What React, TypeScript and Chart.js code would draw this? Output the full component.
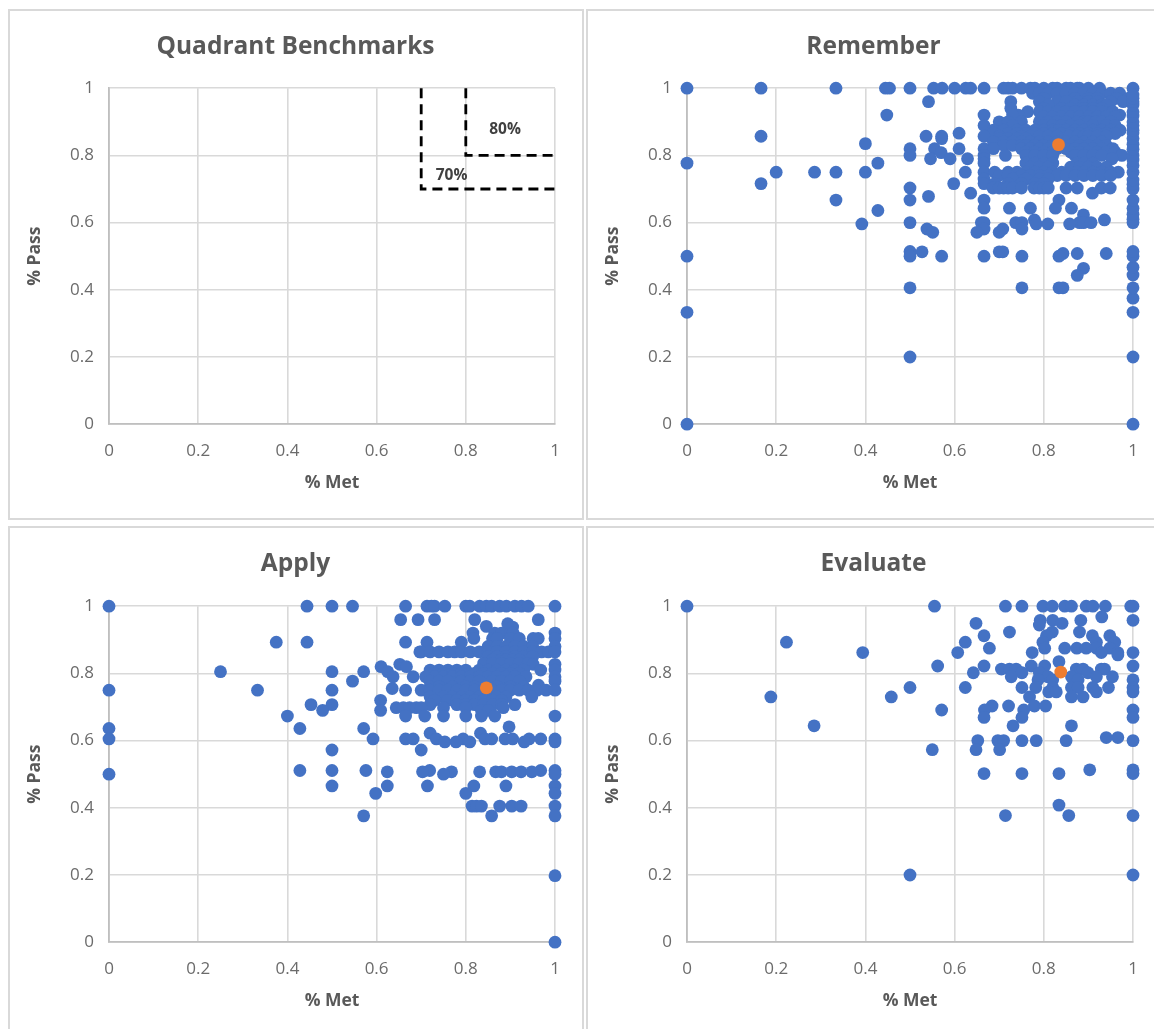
import React, { useEffect, useRef } from "react";
import { Chart, registerables } from "chart.js";

Chart.register(...registerables);

type Row = [number, number[]];

const tickValues = [0, 0.2, 0.4, 0.6, 0.8, 1];
const xTitle = "% Met";
const yTitle = "% Pass";

const benchmark70 = [
  { x: 0.7, y: 1 },
  { x: 0.7, y: 0.7 },
  { x: 1, y: 0.7 },
];
const benchmark80 = [
  { x: 0.8, y: 1 },
  { x: 0.8, y: 0.8 },
  { x: 1, y: 0.8 },
];
const benchmarkLabels = [
  { text: "80%", x: 0.888, y: 0.877 },
  { text: "70%", x: 0.768, y: 0.741 },
];

// Each row: % Pass value, then the % Met values read at that height.
const rememberRows: Row[] = [
  [1, [0, 0.166, 0.334, 0.445, 0.454, 0.5, 0.553, 0.572, 0.6, 0.625, 0.636, 0.666, 0.71, 0.72, 0.73, 0.75, 0.77, 0.78, 0.8, 0.82, 0.83, 0.85, 0.86, 0.875, 0.88, 0.9, 0.925, 1]],
  [0.985, [0.775, 0.79, 0.81, 0.83, 0.85, 0.87, 0.89, 0.91, 0.93, 0.95, 0.97]],
  [0.97, [0.8, 0.87, 0.9, 0.92, 0.963, 0.989]],
  [0.96, [0.5415, 0.726, 0.79, 0.83, 0.85, 0.875, 0.9, 0.92, 0.95, 0.978]],
  [0.95, [0.81, 0.87, 0.89, 0.91, 0.93, 0.94]],
  [0.94, [0.726, 0.8, 0.84, 0.86, 0.89, 0.91, 0.93]],
  [0.93, [0.764, 0.79, 0.81, 0.83, 0.85, 0.87, 0.89, 0.91, 0.93, 0.955]],
  [0.92, [0.448, 0.666, 0.743, 0.73, 0.97]],
  [0.915, [0.8, 0.82, 0.84, 0.86, 0.88, 0.9, 0.92, 0.94, 0.96]],
  [0.9, [0.7, 0.72, 0.75, 0.79, 0.81, 0.83, 0.85, 0.875, 0.89, 0.9, 0.917, 0.93, 0.95]],
  [0.889, [0.73, 0.8, 0.82, 0.84, 0.86, 0.88, 0.91, 0.94, 0.96, 0.666]],
  [0.875, [0.687, 0.71, 0.74, 0.76, 0.78, 0.8, 0.82, 0.833, 0.85, 0.87, 0.89, 0.91, 0.93, 0.95, 0.971]],
  [0.866, [0.61, 0.687]],
  [0.865, [0.72, 0.74, 0.76, 0.78, 0.8, 0.82, 0.84, 0.86, 0.88, 0.9, 0.92, 0.94, 0.96]],
  [0.857, [0.166, 0.536, 0.571, 0.666, 0.7, 0.73, 0.75, 0.77, 0.79, 0.81, 0.83, 0.857, 0.875, 0.89, 0.9, 0.92, 0.94]],
  [0.85, [0.571, 0.7, 0.72, 0.74, 0.76]],
  [0.84, [0.687, 0.71, 0.73, 0.75, 0.77, 0.79, 0.81, 0.83, 0.85, 0.87, 0.89, 0.91, 0.93]],
  [0.835, [0.4]],
  [0.83, [0.71, 0.73, 0.75, 0.76, 0.78, 0.8, 0.82, 0.86, 0.88, 0.9, 0.92, 0.94]],
  [0.82, [0.5, 0.555, 0.61, 0.666, 0.687, 0.75, 0.77, 0.79, 0.81, 0.83, 0.85, 0.87, 0.89, 0.91, 0.93, 0.955]],
  [0.81, [0.76, 0.78, 0.8, 0.82, 0.86, 0.88, 0.9, 0.92, 0.94, 0.96]],
  [0.808, [0.57]],
  [0.8, [0.5, 0.666, 0.714, 0.76, 0.78, 0.8, 0.82, 0.87, 0.89, 0.91, 0.93, 0.975]],
  [0.79, [0.546, 0.59, 0.629, 0.666, 0.953]],
  [0.777, [0, 0.428, 0.666, 0.76, 0.78, 0.8, 0.82, 0.875, 0.89, 0.91]],
  [0.765, [0.77, 0.79, 0.81, 0.86, 0.88, 0.9, 0.92, 0.94]],
  [0.75, [0.2, 0.286, 0.334, 0.4, 0.624, 0.666, 0.69, 0.72, 0.74, 0.76, 0.78, 0.8, 0.82, 0.84, 0.86, 0.875, 0.89, 0.91, 0.93, 0.95, 0.967]],
  [0.74, [0.7, 0.72, 0.75, 0.77, 0.79, 0.81, 0.83, 0.85, 0.87, 0.89, 0.91, 0.93, 0.95]],
  [0.73, [0.666, 0.73, 0.76, 0.79, 0.81]],
  [0.716, [0.166, 0.598, 0.666, 0.69, 0.72, 0.75, 0.78, 0.8]],
  [0.703, [0.5, 0.686, 0.7, 0.71, 0.72, 0.73, 0.75, 0.778, 0.79, 0.8, 0.81, 0.85, 0.875, 0.929, 0.949]],
  [0.6875, [0.636, 0.909]],
  [0.678, [0.5415]],
  [0.667, [0.334, 0.5, 0.666, 0.834]],
  [0.643, [0.666, 0.723, 0.77, 0.826, 0.862]],
  [0.636, [0.428]],
  [0.623, [0.889]],
  [0.608, [0.779, 0.936]],
  [0.6, [0.5, 0.66, 0.666, 0.737, 0.751, 0.88, 0.889, 0.906]],
  [0.596, [0.392, 0.783, 0.809, 0.858]],
  [0.581, [0.538, 0.666, 0.708, 0.751]],
  [0.571, [0.551, 0.65, 0.7]],
  [0.514, [0.5]],
  [0.513, [0.527, 0.7, 0.708]],
  [0.508, [0.843, 0.875, 0.94]],
  [0.5, [0, 0.5, 0.571, 0.666, 0.751, 0.834]],
  [0.464, [0.889]],
  [0.443, [0.875]],
  [0.406, [0.5, 0.751, 0.834, 0.843]],
  [0.333, [0]],
  [0.2, [0.5]],
  [0, [0, 1]],
];
const rememberFullMetRates = [0.2, 0.333, 0.375, 0.406, 0.444, 0.467, 0.5, 0.514, 0.6, 0.61, 0.625, 0.643, 0.667, 0.7, 0.714, 0.727, 0.75, 0.77, 0.786, 0.8, 0.818, 0.833, 0.85, 0.867, 0.875, 0.889, 0.9, 0.917, 0.93, 0.95, 0.96, 0.97, 0.98];
const rememberMean = { x: 0.833, y: 0.832 };

const applyRows: Row[] = [
  [1, [0, 0.444, 0.5, 0.546, 0.665, 0.713, 0.723, 0.73, 0.753, 0.8, 0.809, 0.831, 0.846, 0.858, 0.876, 0.891, 0.91, 0.925, 0.94, 1]],
  [0.96, [0.654, 0.693, 0.73, 0.82, 0.9625]],
  [0.948, [0.894]],
  [0.94, [0.846]],
  [0.938, [0.905]],
  [0.92, [0.816, 0.865, 0.88, 0.9, 0.906, 1]],
  [0.904, [0.818, 0.86, 0.87, 0.9, 0.92, 0.951, 0.9625, 1]],
  [0.893, [0.375, 0.444, 0.665, 0.713, 0.79]],
  [0.88, [0.85, 0.87, 0.89, 0.91, 0.93, 0.95, 1]],
  [0.864, [0.697, 0.7, 0.72, 0.74, 0.76, 0.775, 0.79, 0.81, 0.83, 0.85, 0.87, 0.89, 0.91, 0.93, 0.95, 0.97, 0.985, 1]],
  [0.85, [0.85, 0.87, 0.89, 0.91, 0.93, 0.95]],
  [0.84, [0.86, 0.88, 0.89, 0.905, 0.92]],
  [0.83, [0.84, 0.86, 0.88, 0.9, 0.92, 0.94]],
  [0.827, [0.652, 0.951, 1]],
  [0.82, [0.61, 0.667]],
  [0.81, [0.72, 0.74, 0.76, 0.78, 0.8, 0.83, 0.85, 0.87, 0.89, 0.91, 0.93, 0.968, 1]],
  [0.805, [0.25, 0.5, 0.571, 0.625]],
  [0.8, [0.73, 0.75, 0.77, 0.79, 0.82, 0.84, 0.86, 0.88, 0.9, 0.92]],
  [0.79, [0.637, 0.682, 0.71, 0.73, 0.75, 0.77, 0.79, 0.81, 0.83, 0.85, 0.87, 0.89, 0.91, 0.935, 1]],
  [0.777, [0.546, 0.72, 0.74, 0.76, 0.79, 0.81, 0.83, 0.86, 0.88, 0.9, 0.92, 1]],
  [0.765, [0.963]],
  [0.76, [0.72, 0.74, 0.77, 0.8, 0.82, 0.87, 0.9, 0.93]],
  [0.755, [0.635]],
  [0.75, [0, 0.333, 0.5, 0.665, 0.7, 0.72, 0.74, 0.76, 0.78, 0.8, 0.82, 0.84, 0.86, 0.88, 0.9, 0.92, 0.94, 0.96, 0.98, 1]],
  [0.73, [0.72, 0.75, 0.77, 0.79, 0.81, 0.83, 0.85, 0.87, 0.89, 0.948]],
  [0.72, [0.609, 0.73, 0.76, 0.78, 0.8, 0.82, 0.84, 0.86, 0.88]],
  [0.707, [0.453, 0.5, 0.72, 0.78, 0.8, 0.82, 0.84, 0.86, 0.88, 0.91]],
  [0.698, [0.644, 0.66, 0.674, 0.689, 0.7, 0.75, 0.8, 0.884]],
  [0.69, [0.479, 0.609, 0.835, 0.85]],
  [0.673, [0.4, 0.665, 0.708, 0.75, 0.8, 0.835, 0.865, 1]],
  [0.641, [0.897]],
  [0.636, [0, 0.428, 0.571]],
  [0.622, [0.72, 0.833]],
  [0.605, [0, 0.592, 0.665, 0.682, 0.734, 0.794, 0.843, 0.858, 0.888, 0.905, 0.942, 0.968, 1]],
  [0.596, [0.753, 0.778, 0.809, 0.931, 1]],
  [0.572, [0.5, 0.7]],
  [0.511, [0.428, 0.5, 0.576, 0.719, 0.968, 1]],
  [0.507, [0.624, 0.703, 0.768, 0.831, 0.867, 0.88, 0.903, 0.924, 0.948]],
  [0.5, [0, 0.75, 1]],
  [0.465, [0.5, 0.624, 0.714, 0.818, 0.89, 1]],
  [0.443, [0.598, 0.8, 1]],
  [0.405, [0.814, 0.824, 0.835, 0.876, 0.903, 0.924, 1]],
  [0.376, [0.571, 0.858, 1]],
  [0.198, [1]],
  [0, [1]],
];
const applyMean = { x: 0.846, y: 0.757 };

const evaluateRows: Row[] = [
  [1, [0, 0.555, 0.714, 0.751, 0.798, 0.819, 0.847, 0.862, 0.895, 0.91, 0.938, 0.995, 1]],
  [0.968, [0.93]],
  [0.958, [0.792, 0.82, 0.883, 1]],
  [0.949, [0.648, 0.841]],
  [0.944, [0.79]],
  [0.923, [0.723, 0.819, 0.88]],
  [0.912, [0.666, 0.806, 0.909, 0.948]],
  [0.893, [0.223, 0.624, 0.798, 0.918, 0.959]],
  [0.875, [0.678, 0.802, 0.847, 0.874, 0.895, 0.918, 0.948]],
  [0.862, [0.607, 0.394, 0.774, 0.929, 0.966, 1]],
  [0.855, [0.966]],
  [0.835, [0.834]],
  [0.822, [0.562, 0.666, 0.772, 0.802, 1]],
  [0.813, [0.705, 0.723, 0.738, 0.873, 0.888, 0.929, 0.936]],
  [0.802, [0.642, 0.751, 0.79, 0.899]],
  [0.79, [0.727, 0.809, 0.862, 0.918, 0.954]],
  [0.781, [0.787, 0.82, 0.877, 1]],
  [0.758, [0.5, 0.624, 0.751, 0.782, 0.82, 0.862, 0.877, 0.91, 0.945, 1]],
  [0.745, [0.811, 0.828, 0.918, 1]],
  [0.73, [0.188, 0.458, 0.768, 0.862, 0.888]],
  [0.703, [0.684, 0.721, 0.779, 0.804]],
  [0.691, [0.571, 0.667, 0.755, 1]],
  [0.669, [0.666, 0.751, 1]],
  [0.644, [0.285, 0.731, 0.862]],
  [0.609, [0.94, 0.966]],
  [0.6, [0.652, 0.697, 0.71, 0.751, 0.783, 0.85, 1]],
  [0.573, [0.55, 0.648, 0.701]],
  [0.513, [0.903, 1]],
  [0.502, [0.666, 0.751, 0.834, 1]],
  [0.408, [0.834]],
  [0.377, [0.714, 0.856, 1]],
  [0.2, [0.5, 1]],
];
const evaluateMean = { x: 0.838, y: 0.804 };

const BLUE = "#4472C4";
const ORANGE = "#ED7D31";
const DOT = 6.4;

const toPoints = (rows: Row[]) =>
  rows.flatMap(([y, xs]) => xs.map((x) => ({ x, y })));

const rememberPoints = [
  ...toPoints(rememberRows),
  ...rememberFullMetRates.map((y) => ({ x: 1, y })),
];

const scatterSets = (points: { x: number; y: number }[], mean: { x: number; y: number }) => [
  {
    data: [mean],
    order: 0,
    backgroundColor: ORANGE,
    borderColor: ORANGE,
    pointRadius: DOT,
    borderWidth: 0,
    clip: false,
  },
  {
    data: points,
    order: 1,
    backgroundColor: BLUE,
    borderColor: BLUE,
    pointRadius: DOT,
    borderWidth: 0,
    clip: false,
  },
];

const benchmarkSets = [benchmark70, benchmark80].map((data) => ({
  data,
  showLine: true,
  borderColor: "#000000",
  backgroundColor: "#000000",
  borderWidth: 2.8,
  borderDash: [10, 6],
  pointRadius: 0,
  clip: false,
}));

const textPlugin = {
  id: "benchmarkText",
  afterDatasetsDraw(chart: any) {
    if (chart.options.plugins.benchmarkText?.show !== true) return;
    const { ctx, scales } = chart;
    ctx.save();
    ctx.font = 'bold 15.5px "Open Sans"';
    ctx.fillStyle = "#404040";
    ctx.textAlign = "center";
    ctx.textBaseline = "middle";
    for (const l of benchmarkLabels) {
      ctx.fillText(l.text, scales.x.getPixelForValue(l.x), scales.y.getPixelForValue(l.y));
    }
    ctx.restore();
  },
};

const axis = (title: string, isY: boolean) => ({
  type: "linear" as const,
  min: 0,
  max: 1,
  afterBuildTicks(s: any) {
    s.ticks = tickValues.map((value) => ({ value }));
  },
  afterFit(s: any) {
    if (isY) s.width = 99;
    else s.height = 69.3;
  },
  grid: { color: "#d9d9d9", lineWidth: 1.6, drawTicks: false },
  border: { color: "#bfbfbf", width: 1.8 },
  ticks: {
    color: "#6b6b6b",
    font: { family: '"Open Sans"', size: 17 },
    padding: isY ? 15 : 16.5,
    maxRotation: 0,
    autoSkip: false,
    callback: (v: number) => String(v),
  },
  title: {
    display: true,
    text: title,
    color: "#595959",
    font: { family: '"Open Sans"', size: 17.5, weight: "bold" as const },
    padding: { top: 15, bottom: 0 },
  },
});

const spacerAxis = {
  position: "right" as const,
  display: true,
  min: 0,
  max: 1,
  afterFit(s: any) {
    s.width = 26;
  },
  grid: { display: false, drawTicks: false },
  border: { display: false },
  ticks: { display: false },
};

function Panel({ left, top, plotTop, title, datasets, notes }: any) {
  const ref = useRef<HTMLCanvasElement | null>(null);
  useEffect(() => {
    const titleTop = 21;
    const titleLine = 29.4;
    const chart = new Chart(ref.current as HTMLCanvasElement, {
      type: "scatter",
      data: { datasets },
      plugins: [textPlugin],
      options: {
        responsive: false,
        animation: false,
        layout: { padding: { left: 0, right: 0, top: 0, bottom: 506 - (plotTop + 336) - 69.3 } },
        scales: { x: axis(xTitle, false), y: axis(yTitle, true), spacer: spacerAxis },
        plugins: {
          legend: { display: false },
          tooltip: { enabled: false },
          benchmarkText: { show: !!notes },
          title: {
            display: true,
            text: title,
            color: "#595959",
            font: { family: '"Open Sans"', size: 24.5, weight: "bold" as const, lineHeight: 1.2 },
            padding: { top: titleTop, bottom: plotTop - titleTop - titleLine },
          },
        },
      } as any,
    });
    return () => chart.destroy();
  }, []);
  return (
    <div
      style={{
        position: "absolute",
        left,
        top,
        width: 576,
        height: 511,
        boxSizing: "border-box",
        border: "2.5px solid #d9d9d9",
        background: "#fff",
      }}
    >
      <canvas ref={ref} width={571} height={506} style={{ display: "block" }} />
    </div>
  );
}

export default function App() {
  return (
    <div
      style={{
        position: "absolute",
        left: 0,
        top: 0,
        width: 1154,
        height: 1029,
        overflow: "hidden",
        background: "#fff",
      }}
    >
      <Panel left={7.5} top={9} plotTop={77.2} title="Quadrant Benchmarks" datasets={benchmarkSets} notes />
      <Panel left={586} top={9} plotTop={77.2} title="Remember" datasets={scatterSets(rememberPoints, rememberMean)} />
      <Panel left={7.5} top={526} plotTop={78.2} title="Apply" datasets={scatterSets(toPoints(applyRows), applyMean)} />
      <Panel left={586} top={526} plotTop={78.2} title="Evaluate" datasets={scatterSets(toPoints(evaluateRows), evaluateMean)} />
    </div>
  );
}
